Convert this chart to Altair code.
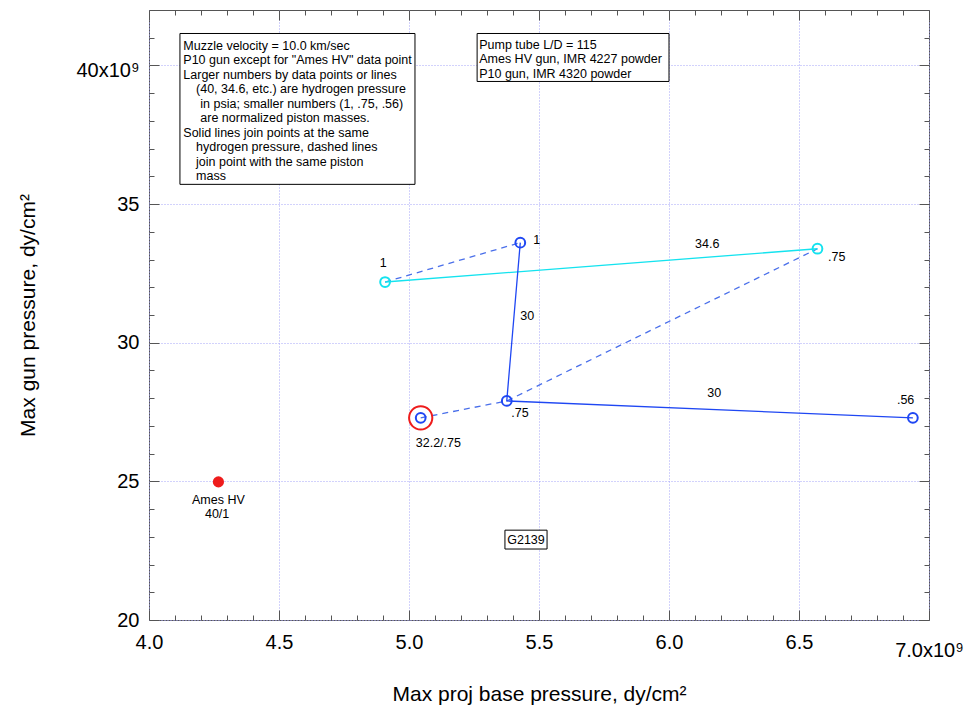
import altair as alt
import pandas as pd

# ---------------- data ----------------
proj_base = [4.908, 6.571, 5.428, 5.376, 6.938, 5.045, 4.267]   # x10^9 dy/cm^2
gun_press = [32.19, 33.39, 33.61, 27.90, 27.29, 27.29, 24.98]   # x10^9 dy/cm^2
h2_psia = ["34.6", "34.6", "30", "30", "30", "32.2", "40"]
piston_mass = [1.0, 0.75, 1.0, 0.75, 0.56, 0.75, 1.0]
gun_name = ["P10", "P10", "P10", "P10", "P10", "P10", "Ames HV"]

label_text = ["1", ".75", "1", ".75", ".56", "32.2/.75", "34.6", "30", "30", "Ames HV", "40/1"]
label_x = [4.901, 6.645, 5.491, 5.427, 6.910, 5.113, 6.147, 5.455, 6.174, 4.267, 4.262]
label_y = [32.88, 33.09, 33.72, 27.47, 27.95, 26.40, 33.55, 30.98, 28.17, 24.32, 23.84]

x_ticks = [round(4.0 + 0.1 * i, 1) for i in range(31)]
y_ticks = list(range(20, 43))

note_lines = [
    "Muzzle velocity = 10.0 km/sec",
    'P10 gun except for "Ames HV" data point',
    "Larger numbers by data points or lines",
    "(40, 34.6, etc.) are hydrogen pressure",
    "in psia; smaller numbers (1, .75, .56)",
    "are normalized piston masses.",
    "Solid lines join points at the same",
    "hydrogen pressure, dashed lines",
    "join point with the same piston",
    "mass",
]
note_indent = [0, 0, 0, 1, 2, 2, 0, 1, 1, 1]
note2_lines = [
    "Pump tube L/D = 115",
    "Ames HV gun, IMR 4227 powder",
    "P10 gun, IMR 4320 powder",
]
tag_text = ["G2139"]

box_x = [4.119, 5.262, 5.369]
box_x2 = [5.023, 6.000, 5.531]
box_y = [41.153, 41.153, 23.24]
box_y2 = [35.712, 39.423, 22.56]

note_anchor_x = [4.132, 5.270, 5.450]
note_anchor_y = [40.566, 40.600, 22.90]

# ---------------- styles ----------------
FONT = "Liberation Sans"
FRAME = "#555555"
TICK = "#555555"
GRID = "#a4a4f8"
CYAN = "#14e3ef"
BLUE = "#1f47f3"
BLUE_DASH = "#4a6fea"
RED = "#ee1c1c"
MAJ, MIN = 10, 5
LINE_H = 14.5

df = pd.DataFrame({
    "x": proj_base, "y": gun_press, "h2": h2_psia,
    "mass": piston_mass, "gun": gun_name,
})
labels = pd.DataFrame({"x": label_x, "y": label_y, "t": label_text})
boxes = pd.DataFrame({"x": box_x, "x2": box_x2, "y": box_y, "y2": box_y2})

xscale = alt.Scale(domain=[4.0, 7.0], nice=False, zero=False)
yscale = alt.Scale(domain=[20, 42], nice=False, zero=False)

maj_x = "abs(datum.value * 2 - round(datum.value * 2)) < 0.001"
maj_y = "datum.value % 5 == 0"


def tick_dash(test):
    return {"condition": {"test": test, "value": [MAJ, MAJ]},
            "value": [0, MAJ - MIN, MIN, MAJ]}


def grid_op(test):
    return {"condition": {"test": test, "value": 1}, "value": 0}


tick_common = dict(offset=-MAJ, domain=False, tickSize=MAJ, tickColor=TICK,
                   tickWidth=1)

x_bottom = alt.Axis(
    orient="bottom", values=x_ticks, tickDash=tick_dash(maj_x), **tick_common,
    grid=True, gridColor=GRID, gridDash=[1, 2], gridWidth=1, gridOpacity=grid_op(maj_x),
    labelExpr=maj_x + " ? (datum.value == 7 ? '7.0x10\u2079' : format(datum.value, '.1f')) : ''",
    labelFont=FONT, labelFontSize=20, labelColor="black",
    labelPadding={"condition": {"test": "datum.value == 7", "value": 20.5}, "value": 12},
    labelFlush=False, labelOverlap=False,
    title="Max proj base pressure, dy/cm\u00b2", titleFont=FONT, titleFontSize=21,
    titleFontWeight="normal", titleColor="black", titleX=390, titleY=90,
    titleAlign="center", titleBaseline="alphabetic",
)
x_top = alt.Axis(orient="top", values=x_ticks, tickDash=tick_dash(maj_x), **tick_common,
                 grid=False, labels=False, title=None)

y_left = alt.Axis(
    orient="left", values=y_ticks, tickDash=tick_dash(maj_y), **tick_common,
    grid=True, gridColor=GRID, gridDash=[1, 2], gridWidth=1, gridOpacity=grid_op(maj_y),
    labelExpr=maj_y + " ? (datum.value == 40 ? '40x10\u2079' : format(datum.value, 'd')) : ''",
    labelFont=FONT, labelFontSize=20, labelColor="black", labelPadding=10,
    labelOffset={"condition": {"test": "datum.value == 40", "value": 5}, "value": 0},
    labelFlush=False, labelOverlap=False,
    title="Max gun pressure, dy/cm\u00b2", titleFont=FONT, titleFontSize=21,
    titleFontWeight="normal", titleColor="black", titleX=-125, titleY=305,
    titleAlign="center", titleBaseline="alphabetic", titleAngle=270,
)
y_right = alt.Axis(orient="right", values=y_ticks, tickDash=tick_dash(maj_y), **tick_common,
                   grid=False, labels=False, title=None)


def X(field="x", axis=None):
    return alt.X(field, type="quantitative", scale=xscale, axis=axis)


def Y(field="y", axis=None):
    return alt.Y(field, type="quantitative", scale=yscale, axis=axis)


base = alt.Chart(df)
color_scale = alt.Scale(domain=["34.6", "30", "32.2", "40"], range=[CYAN, BLUE, BLUE, RED])

axes_a = base.mark_point(opacity=0).encode(x=X(axis=x_bottom), y=Y(axis=y_left))
axes_b = base.mark_point(opacity=0).encode(x=X(axis=x_top), y=Y(axis=y_right))

solid = base.transform_filter("datum.gun == 'P10'").mark_line(strokeWidth=1.3).encode(
    x=X(), y=Y(),
    color=alt.Color("h2:N", scale=color_scale, legend=None),
    order=alt.Order("mass:Q", sort="descending"),
)
dashed = base.transform_filter("datum.gun == 'P10'").mark_line(
    strokeWidth=1.3, strokeDash=[6, 5], color=BLUE_DASH
).encode(x=X(), y=Y(), detail="mass:N", order=alt.Order("x:Q"))

open_pts = base.transform_filter("datum.gun == 'P10'").mark_point(
    shape="circle", filled=False, size=95, strokeWidth=2, opacity=1
).encode(x=X(), y=Y(), color=alt.Color("h2:N", scale=color_scale, legend=None))

ring = base.transform_filter("datum.h2 == '32.2'").mark_point(
    shape="circle", filled=False, size=540, strokeWidth=2, color=RED, opacity=1
).encode(x=X(), y=Y())

ames = base.transform_filter("datum.gun == 'Ames HV'").mark_circle(
    size=125, color=RED, opacity=1
).encode(x=X(), y=Y())

lbl = alt.Chart(labels).mark_text(font=FONT, fontSize=12.5, color="black",
                                  align="center", baseline="middle").encode(
    x=X(), y=Y(), text="t:N")

rects = alt.Chart(boxes).mark_rect(fill="white", stroke="black", strokeWidth=1).encode(
    x=X(), x2="x2", y=Y(), y2="y2")

indent_px = [0, 12.7, 17]
anchor1 = pd.DataFrame({"x": [note_anchor_x[0]], "y": [note_anchor_y[0]]})
note_layers = []
for row, (t, lev) in enumerate(zip(note_lines, note_indent)):
    note_layers.append(
        alt.Chart(anchor1).mark_text(text=t, font=FONT, fontSize=12.5,
                                     align="left", baseline="alphabetic",
                                     dx=indent_px[lev], dy=row * LINE_H,
                                     color="black").encode(x=X(), y=Y()))

anchor2 = pd.DataFrame({"x": [note_anchor_x[1]], "y": [note_anchor_y[1]]})
for row, t in enumerate(note2_lines):
    note_layers.append(
        alt.Chart(anchor2).mark_text(text=t, font=FONT, fontSize=12.5,
                                     align="left", baseline="alphabetic",
                                     dy=row * LINE_H, color="black").encode(x=X(), y=Y()))

anchor3 = pd.DataFrame({"x": [note_anchor_x[2]], "y": [note_anchor_y[2]], "t": tag_text})
tag = alt.Chart(anchor3).mark_text(font=FONT, fontSize=12.5, align="center",
                                   baseline="middle", color="black").encode(
    x=X(), y=Y(), text="t:N")

chart = alt.layer(
    axes_a, axes_b, dashed, solid, ring, open_pts, ames, lbl, rects,
    *note_layers, tag
).resolve_axis(x="independent", y="independent").properties(
    width=780, height=610,
    autosize=alt.AutoSizeParams(type="none"),
    padding={"left": 149, "top": 10, "right": 40, "bottom": 88},
    background="white",
).configure_view(stroke=FRAME, strokeWidth=1)

chart.save("out.html", embed_options={"renderer": "svg", "actions": False})
